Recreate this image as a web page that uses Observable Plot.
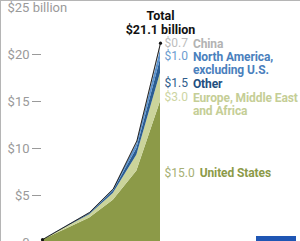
<!DOCTYPE html>
<html>
<head>
<meta charset="utf-8">
<script src="https://cdn.jsdelivr.net/npm/d3@7"></script>
<script src="https://cdn.jsdelivr.net/npm/@observablehq/plot@0.6"></script>
<style>
  html, body { margin: 0; padding: 0; background: #fff; overflow: hidden; }
  #wrap { position: relative; width: 300px; height: 241px; }
  #edge { position: absolute; left: 0; top: 0; width: 299px; height: 240px; border-left: 1px solid #b5b5b5; border-top: 1px solid #b5b5b5; pointer-events: none; }
  #tab { position: absolute; left: 256px; top: 236px; width: 40px; height: 5px; background: #1f56b4; }
  svg { font-family: Roboto, "Liberation Sans", sans-serif; }
  .nm text { letter-spacing: -0.1px; }
</style>
</head>
<body>
<div id="wrap"><div id="chart"></div><div id="edge"></div><div id="tab"></div></div>
<script>
// ---- data ----
const years = [2010, 2012, 2013, 2014, 2015];
const regions = ["United States", "Europe, Middle East and Africa", "Other", "North America, excluding U.S.", "China"];
const usValues    = [0.25, 2.6, 4.5, 7.6, 15.0];
const emeaValues  = [0.03, 0.35, 0.7, 1.7, 3.0];
const otherValues = [0.01, 0.1, 0.25, 0.7, 1.5];
const naValues    = [0.01, 0.1, 0.15, 0.5, 1.0];
const chinaValues = [0.0, 0.05, 0.1, 0.3, 0.7];
const totalLabel = "$21.1 billion";
const labelNames = ["United States", "Europe, Middle East\nand Africa", "Other", "North America,\nexcluding U.S.", "China"];
const labelTops = [7.9, 15.95, 17.45, 20.3, 21.7];
const yTicks = [0, 5, 10, 15, 20];
const yTopTick = 25;

const series = [usValues, emeaValues, otherValues, naValues, chinaValues];
const colors = ["#8c9a48", "#cbd49b", "#2b5d92", "#5b92cd", "#cfcfcf"];
const valueColors = ["#a6af74", "#cdd5a2", "#2f5d8c", "#6c9ccf", "#bdbdbd"];
const nameColors = ["#8c9a48", "#c5ce96", "#234f7f", "#4a80bd", "#b3b3b3"];

const rows = years.flatMap((yr, i) => regions.map((r, j) => ({year: yr, region: r, value: series[j][i]})));
const totals = years.map((yr, i) => ({year: yr, total: d3.sum(series, s => s[i])}));
const endpoints = [totals[0], totals[totals.length - 1]];

const ctx = document.createElement("canvas").getContext("2d");
ctx.font = "12px Roboto";
const labels = regions.map((r, j) => {
  const v = "$" + series[j][series[j].length - 1].toFixed(1);
  return {region: r, valueText: v, name: labelNames[j], top: labelTops[j], vColor: valueColors[j], nColor: nameColors[j], dxName: 4 + ctx.measureText(v).width + 5};
});
const lastYear = years[years.length - 1];

const chart = Plot.plot({
  width: 300,
  height: 241,
  marginLeft: 41,
  marginRight: 0,
  marginTop: 0,
  marginBottom: 0,
  x: {domain: [years[0], lastYear], range: [42, 160], axis: null},
  y: {domain: [0, 25], range: [242, 7], axis: null},
  color: {domain: regions, range: colors},
  marks: [
    Plot.axisY({ticks: yTicks, tickFormat: d => d === 0 ? "0" : "$" + d, tickSize: 9, tickPadding: 3, color: "#9a9a9a", fontSize: 13, label: null}),
    Plot.text([yTopTick], {y: d => d, text: d => "$" + d + " billion", frameAnchor: "left", dx: -34, textAnchor: "start", fill: "#9a9a9a", fontSize: 13}),
    Plot.areaY(rows, {x: "year", y: "value", z: "region", fill: "region", order: regions}),
    Plot.lineY(totals, {x: "year", y: "total", stroke: "#222", strokeWidth: 1}),
    Plot.dot(endpoints, {x: "year", y: "total", r: 1.6, fill: "#111"}),
    Plot.text([totalLabel], {x: () => lastYear, y: () => 24.75, text: d => "Total\n" + d, lineAnchor: "top", lineHeight: 1.12, fontWeight: "bold", fontSize: 12.5, fill: "#111", textAnchor: "middle"}),
    ...labels.map(l => Plot.text([l], {x: () => lastYear, y: "top", text: "valueText", dx: 4, textAnchor: "start", lineAnchor: "top", fontSize: 12, fill: l.vColor})),
    ...labels.map(l => Plot.text([l], {x: () => lastYear, y: "top", text: "name", dx: l.dxName, textAnchor: "start", lineAnchor: "top", lineHeight: 1.08, fontSize: 12, fontWeight: "bold", fill: l.nColor, className: "nm"}))
  ]
});
document.getElementById("chart").appendChild(chart);
</script>
</body>
</html>
